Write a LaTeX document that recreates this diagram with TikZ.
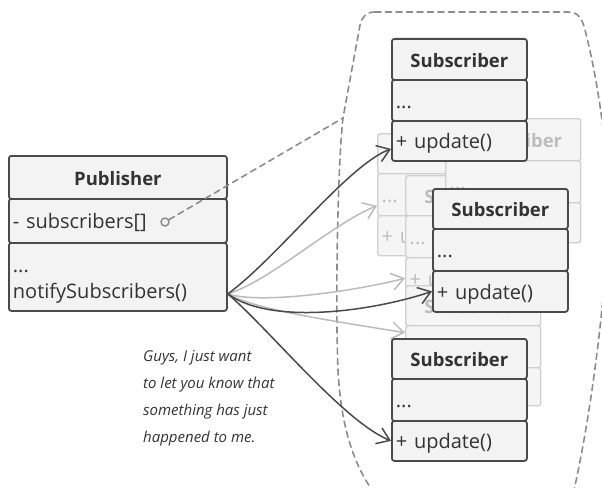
\documentclass[tikz,border=0pt]{standalone}
\usepackage{fontspec}
\setmainfont{Open Sans}
\usetikzlibrary{arrows.meta}

\definecolor{ink}{HTML}{4A4A4A}
\definecolor{txt}{HTML}{333333}
\definecolor{boxbg}{HTML}{F3F3F3}
\definecolor{fade}{HTML}{D0D0D0}
\definecolor{fadetxt}{HTML}{BDBDBD}
\definecolor{fadebg}{HTML}{F5F5F5}
\definecolor{fence}{HTML}{8C8C8C}

\begin{document}
\begin{tikzpicture}[x=1pt, y=-1pt, line cap=round, line join=round,
    font=\fontsize{20}{26}\selectfont,
    row/.style={draw=ink, fill=boxbg, text=txt, line width=1.8pt,
      rounded corners=2.5pt, anchor=north west, minimum width=135pt,
      text width=127pt, inner xsep=4pt, inner ysep=0pt, align=left,
      text height=18pt, text depth=2pt},
    head/.style={row, align=center, font=\fontsize{18.5}{26}\selectfont\bfseries},
    ghost/.style={row, draw=fade, fill=fadebg, text=fadetxt, line width=1.4pt},
    ghosthead/.style={ghost, align=center, font=\fontsize{18.5}{26}\selectfont\bfseries},
    msg/.style={line width=1.5pt, draw=ink, -{Straight Barb[length=12pt, width=17pt]}},
    faint/.style={msg, draw=fade!90!black},
    link/.style={draw=fence, line width=1.6pt, dash pattern=on 6pt off 4.5pt}]
  \useasboundingbox (0,0) rectangle (602,487);
  \clip (0,0) rectangle (602,487);
  % the group of subscribers
  \draw[link] (375,12) -- (568,12) .. controls (578,12) and (582,18) .. (585,30)
    .. controls (598,80) and (610,160) .. (608,220)
    .. controls (606,300) and (590,420) .. (574,490);
  \draw[link] (375,12) .. controls (366,12) and (362,17) .. (360,25) -- (343,118)
    .. controls (338,160) and (335,300) .. (338,370)
    .. controls (341,430) and (355,465) .. (372,490);
  % faded subscribers behind
  \node[ghosthead, minimum height=40pt] (g2t) at (377,133) {Subscriber};
  \node[ghost, minimum height=42pt] (g2a) at (377,173) {...};
  \node[ghost, minimum height=40pt] (g2m) at (377,215) {+ update()};
  \node[ghosthead, minimum height=40pt] (g3t) at (405,175) {Subscriber};
  \node[ghost, minimum height=42pt] (g3a) at (405,215) {...};
  \node[ghost, minimum height=41pt] (g3m) at (405,257) {+ update()};
  \node[ghosthead, minimum height=40pt] (g4t) at (405,285) {Subscriber};
  \node[ghost, minimum height=42pt] (g4a) at (405,325) {...};
  \node[ghost, minimum height=38pt] (g4m) at (405,367) {+ update()};
  \node[ghosthead, minimum height=42pt] (g1t) at (445,118) {Subscriber};
  \node[ghost, minimum height=42pt] (g1a) at (445,160) {...};
  \node[ghost, minimum height=40pt] (g1m) at (445,202) {+ update()};
  % publisher
  \node[head, minimum width=218pt, text width=210pt, minimum height=43pt] (pt) at (8,155) {Publisher};
  \node[row, minimum width=218pt, text width=210pt, minimum height=44pt] (pa) at (8,198) {- subscribers[]};
  \node[row, minimum width=218pt, text width=210pt, minimum height=68pt,
    text height=22pt, text depth=30pt] (pm) at (8,242) {...\\notifySubscribers()};
  \coordinate (src) at ([yshift=-17pt]pm.east);
  % light messages
  \draw[faint] (src) .. controls (272,280) and (330,225) .. ([yshift=-11pt]g2a.west);
  \draw[faint] (src) .. controls (262,305) and (360,290) .. (g3m.west);
  \draw[faint] (src) .. controls (255,310) and (340,322) .. ([yshift=14pt]g4a.west);
  % subscribers
  \node[head, minimum height=41pt] (s1t) at (391,38) {Subscriber};
  \node[row, minimum height=41pt] (s1a) at (391,79) {...};
  \node[row, minimum height=40pt] (s1m) at (391,120) {+ update()};
  \node[head, minimum height=40pt] (s2t) at (432,188) {Subscriber};
  \node[row, minimum height=42pt] (s2a) at (432,228) {...};
  \node[row, minimum height=41pt] (s2m) at (432,270) {+ update()};
  \node[head, minimum height=40pt] (s3t) at (391,338) {Subscriber};
  \node[row, minimum height=42pt] (s3a) at (391,378) {...};
  \node[row, minimum height=40pt] (s3m) at (391,420) {+ update()};
  % dark messages
  \draw[msg] (src) .. controls (277,258) and (348,165) .. ([yshift=-8pt]s1m.west);
  \draw[msg] (src) .. controls (270,325) and (370,312) .. (s2m.west);
  \draw[msg] (src) .. controls (270,330) and (343,421) .. (s3m.west);
  % list of subscribers
  \node[circle, draw=fence, fill=boxbg, line width=1.5pt, minimum size=8pt, inner sep=0pt] (dot) at (165,222) {};
  \coordinate (hook) at (343,118);
  \draw[link] (dot) -- (hook);
  \node[anchor=north west, inner sep=0pt, align=left, text=txt,
    font=\itshape\fontsize{15}{27}\selectfont] (note) at (143,350)
    {Guys, I just want\\to let you know that\\something has just\\happened to me.};
\end{tikzpicture}
\end{document}
